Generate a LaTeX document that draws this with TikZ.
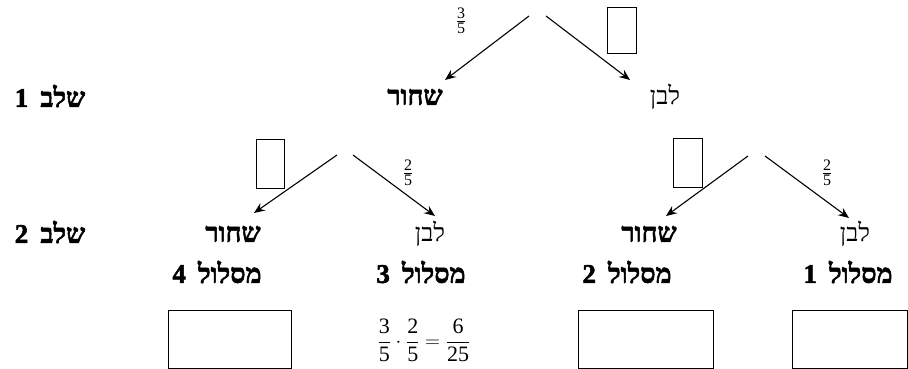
\documentclass[tikz,border=0pt]{standalone}
\usepackage{fontspec}
\usetikzlibrary{arrows.meta}
\TeXXeTstate=1
\newfontfamily\hebfont[Script=Hebrew]{Liberation Serif}
\newfontfamily\hebbold[Script=Hebrew,FakeBold=2]{Liberation Serif Bold}
\newfontfamily\tms{Liberation Serif}
\newcommand{\sfr}[2]{\frac{\hbox{\fontsize{16}{16}\selectfont\tms #1}}{\hbox{\fontsize{16}{16}\selectfont\tms #2}}}
\newcommand{\bfr}[2]{\frac{\hbox{\fontsize{22}{22}\selectfont\tms #1}}{\hbox{\fontsize{22}{22}\selectfont\tms #2}}}
\tikzset{
  heb/.style={font=\fontsize{25}{27}\selectfont\hebfont, inner sep=0pt, anchor=center},
  hebb/.style={font=\fontsize{27}{29}\selectfont\hebbold, inner sep=0pt, anchor=center},
  frac/.style={font=\fontsize{21}{24}\selectfont, inner sep=0pt},
  lab/.style={font=\fontsize{21}{24}\selectfont, inner sep=0pt},
  arr/.style={line width=1.1pt, -{Stealth[length=11pt,width=9pt,inset=4pt]}},
  blank/.style={draw, line width=0.9pt}
}
\begin{document}
\begin{tikzpicture}[x=1pt,y=-1pt]
\useasboundingbox (0,0) rectangle (908,369);
% level labels
\node[hebb] (l1) at (50,96) {\beginR שלב\hspace{0.45em}1\endR};
\node[hebb] (l2) at (50,232) {\beginR שלב\hspace{0.45em}2\endR};
% level 1
\node[hebb] (b1) at (415,97) {\beginR שחור\endR};
\node[heb] (w1) at (665,97) {\beginR לבן\endR};
% level 2
\node[hebb] (b2l) at (233,234) {\beginR שחור\endR};
\node[heb] (w2l) at (430,234) {\beginR לבן\endR};
\node[hebb] (b2r) at (649,234) {\beginR שחור\endR};
\node[heb] (w2r) at (855,234) {\beginR לבן\endR};
% paths
\node[hebb] (p4) at (217,272) {\beginR מסלול\hspace{0.45em}4\endR};
\node[hebb] (p3) at (421,272) {\beginR מסלול\hspace{0.45em}3\endR};
\node[hebb] (p2) at (627,272) {\beginR מסלול\hspace{0.45em}2\endR};
\node[hebb] (p1) at (848,272) {\beginR מסלול\hspace{0.45em}1\endR};
% result boxes
\draw[blank] (168,310) rectangle (291,368);
\draw[blank] (578,310) rectangle (713,368);
\draw[blank] (792,310) rectangle (907.5,368);
\node[frac] (f3) at (424,340) {$\displaystyle\bfr{3}{5}\cdot\bfr{2}{5}=\bfr{6}{25}$};
% top arrows
\coordinate (s1a) at (529,16); \coordinate (t1a) at (445,80);
\coordinate (s1b) at (546,16); \coordinate (t1b) at (630,80);
\draw[arr] (s1a) -- (t1a);
\draw[arr] (s1b) -- (t1b);
\node[lab] (q1) at (461,21) {$\sfr{3}{5}$};
\draw[blank] (607,7) rectangle (636,53);
% left subtree
\coordinate (s2a) at (337,155); \coordinate (t2a) at (254,213);
\coordinate (s2b) at (353,155); \coordinate (t2b) at (435,216);
\draw[arr] (s2a) -- (t2a);
\draw[arr] (s2b) -- (t2b);
\draw[blank] (256,139) rectangle (284,188);
\node[lab] (q2) at (408,173) {$\sfr{2}{5}$};
% right subtree
\coordinate (s3a) at (748,156); \coordinate (t3a) at (666,216);
\coordinate (s3b) at (765,156); \coordinate (t3b) at (849,218);
\draw[arr] (s3a) -- (t3a);
\draw[arr] (s3b) -- (t3b);
\draw[blank] (673,138) rectangle (702,187);
\node[lab] (q3) at (827,173) {$\sfr{2}{5}$};
\end{tikzpicture}
\end{document}
